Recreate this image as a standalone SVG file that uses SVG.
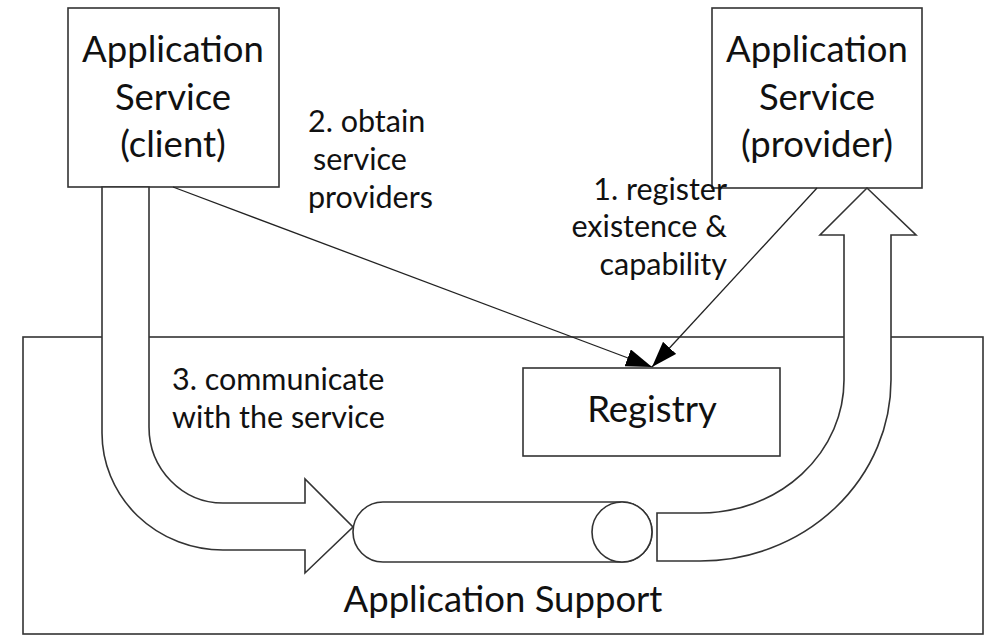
<svg xmlns="http://www.w3.org/2000/svg" width="991" height="636" viewBox="0 0 991 636">
<style>
.box{fill:#fff;stroke:#333;stroke-width:1.6}
.shape{fill:#fff;stroke:#333;stroke-width:1.6;stroke-linejoin:miter}
.conn{fill:none;stroke:#222;stroke-width:1.3}
text{font-family:Lato,"Liberation Sans",sans-serif;fill:#111}
.big{font-size:36.5px;text-anchor:middle}
.lbl{font-size:30.5px}
</style>
<defs>
<marker id="ah" viewBox="0 0 26 18" refX="26" refY="9" markerWidth="26" markerHeight="18" markerUnits="userSpaceOnUse" orient="auto">
<path d="M0,0 L26,9 L0,18 Z" fill="#000"/>
</marker>
</defs>
<g id="application-support">
<rect class="box" x="23" y="337" width="960" height="297"/>
<text class="big" x="503" y="612">Application Support</text>
</g>
<g id="client">
<rect class="box" x="68" y="8" width="211" height="179"/>
<text class="big" x="173" y="62">Application</text>
<text class="big" x="173" y="110">Service</text>
<text class="big" x="173" y="157">(client)</text>
</g>
<g id="provider">
<rect class="box" x="712" y="8" width="210" height="180"/>
<text class="big" x="817" y="62">Application</text>
<text class="big" x="817" y="110">Service</text>
<text class="big" x="817" y="157">(provider)</text>
</g>
<g id="registry">
<rect class="box" x="523" y="368" width="257" height="88"/>
<text class="big" x="652" y="422">Registry</text>
</g>
<g id="pipe">
<path class="shape" d="M383,502 L622,502 A30,30 0 0 1 622,562 L383,562 A30,30 0 0 1 383,502 Z"/>
<circle class="shape" cx="622" cy="532" r="30"/>
</g>
<g id="connectors">
<path id="flow-client" class="shape" d="M102,187 L149,187 L149,427 A74,76 0 0 0 223,503 L305,503 L305,479 L353,527 L305,573 L305,550 L223,550 A121,117 0 0 1 102,433 Z"/>
<path id="flow-provider" class="shape" d="M657,513 L700,513 A144,133 0 0 0 844,380 L844,235 L820,235 L867,188 L916,235 L891,235 L891,380 A191,181 0 0 1 700,561 L657,561 Z"/>
<line class="conn" x1="173" y1="187" x2="652" y2="367" marker-end="url(#ah)"/>
<line class="conn" x1="817" y1="188" x2="652" y2="367" marker-end="url(#ah)"/>
</g>
<g id="labels">
<text class="lbl" x="308" y="132">2. obtain</text>
<text class="lbl" x="313" y="170">service</text>
<text class="lbl" x="308" y="208">providers</text>
<text class="lbl" x="727" y="200" text-anchor="end">1. register</text>
<text class="lbl" x="727" y="237" text-anchor="end">existence &amp;</text>
<text class="lbl" x="727" y="275" text-anchor="end">capability</text>
<text class="lbl" x="172" y="390">3. communicate</text>
<text class="lbl" x="172" y="428">with the service</text>
</g>
</svg>
